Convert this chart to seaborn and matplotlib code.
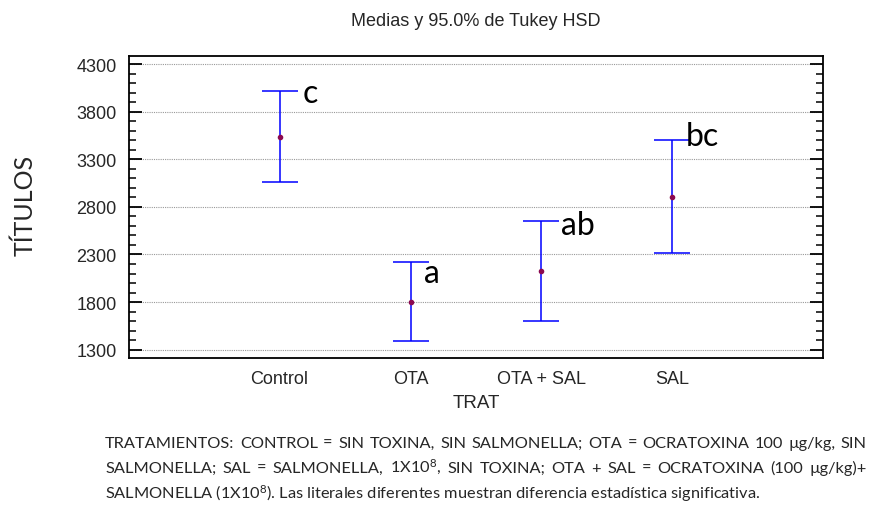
import numpy as np
import matplotlib
matplotlib.use("Agg")
import matplotlib.pyplot as plt
import seaborn as sns
from matplotlib.ticker import MultipleLocator

# Datos (medias e intervalos Tukey HSD 95%)
TRATAMIENTOS = ["Control", "OTA", "OTA + SAL", "SAL"]
MEDIAS = [3537, 1803, 2122, 2905]
LIM_INF = [3065, 1394, 1597, 2315]
LIM_SUP = [4020, 2226, 2650, 3503]
LETRAS = ["c", "a", "ab", "bc"]
Y_TICKS = [1300, 1800, 2300, 2800, 3300, 3800, 4300]

NOTA = [
    "TRATAMIENTOS: CONTROL = SIN TOXINA, SIN SALMONELLA; OTA = OCRATOXINA 100 µg/kg, SIN",
    "SALMONELLA; SAL = SALMONELLA, 1X10$^8$, SIN TOXINA; OTA + SAL = OCRATOXINA (100 µg/kg)+",
    "SALMONELLA (1X10$^8$). Las literales diferentes muestran diferencia estadística significativa.",
]

sns.set_style("white")
plt.rcParams['mathtext.fontset'] = 'custom'
plt.rcParams['mathtext.rm'] = 'Lato'
plt.rcParams['mathtext.it'] = 'Lato'
plt.rcParams['mathtext.bf'] = 'Lato'

W, H = 874, 506
fig = plt.figure(figsize=(W / 100, H / 100), dpi=100)
ax = fig.add_axes([129 / W, 1 - 359 / H, (823 - 129) / W, (359 - 57) / H])

x = np.arange(len(TRATAMIENTOS))
medias = np.array(MEDIAS)
err = np.vstack([medias - np.array(LIM_INF), np.array(LIM_SUP) - medias])

ax.errorbar(x, medias, yerr=err, fmt='none', ecolor='#0000FF', elinewidth=1.1,
            capsize=13, capthick=1.1, zorder=3)
sns.pointplot(x=TRATAMIENTOS, y=MEDIAS, linestyle='none', errorbar=None,
              color='#8B0A50', markersize=2, ax=ax, zorder=4)

# Letras de significancia (desplazamientos en px)
offsets = [(10, -11), (0, -20), (6, -13), (0, -5)]
for xi, ys, letra, (dx, dy) in zip(x, LIM_SUP, LETRAS, offsets):
    ax.annotate(letra, xy=(xi + 0.1, ys), xytext=(dx * 0.72, dy * 0.72),
                textcoords='offset points', ha='left', va='baseline',
                fontsize=23, family='Lato', color='black')

ax.set_xlim(-1.15, 4.15)
ax.set_ylim(1213, 4384)
ax.set_yticks(Y_TICKS)
ax.yaxis.set_minor_locator(MultipleLocator(100))
ax.yaxis.grid(True, which='major', linestyle=(0, (1, 1)), color='#999999', linewidth=0.8)
ax.set_axisbelow(True)

ax.tick_params(axis='y', which='major', direction='in', length=9.5, width=1.3,
               left=True, right=True, labelsize=13, pad=9, color='black')
ax.tick_params(axis='y', which='minor', direction='in', length=5, width=1.1,
               left=True, right=True, color='black')
ax.tick_params(axis='x', which='both', length=0, labelsize=13, pad=9)
for lab in ax.get_xticklabels() + ax.get_yticklabels():
    lab.set_family('Liberation Sans')

for sp in ax.spines.values():
    sp.set_visible(True)
    sp.set_color('black')
    sp.set_linewidth(1.3)

ax.set_xlabel("TRAT", fontsize=13.5, family='Liberation Sans', labelpad=5)
ax.set_ylabel("")
fig.text(25 / W, 1 - 205 / H, "TÍTULOS", rotation=90, ha='center', va='center',
         fontsize=18, family='Lato')
fig.text(476 / W, 1 - 25.5 / H, "Medias y 95.0% de Tukey HSD", ha='center', va='baseline',
         fontsize=13, family='Liberation Sans')

# Nota al pie, justificada
fig.canvas.draw()
renderer = fig.canvas.get_renderer()
x0, x1 = 105, 867
ys_nota = [448, 473, 499]
for i, (linea, yl) in enumerate(zip(NOTA, ys_nota)):
    palabras = linea.split(" ")
    if i == len(NOTA) - 1:
        fig.text(x0 / W, 1 - yl / H, linea, ha='left', va='baseline',
                 fontsize=11.8, family='Lato')
        continue
    textos = [fig.text(0, 1 - yl / H, p, ha='left', va='baseline', fontsize=11.8,
                       family='Lato') for p in palabras]
    anchos = [t.get_window_extent(renderer).width for t in textos]
    hueco = (x1 - x0 - sum(anchos)) / (len(palabras) - 1)
    pos = x0
    for t, a in zip(textos, anchos):
        t.set_x(pos / W)
        pos += a + hueco

fig.savefig("out.png", dpi=100)
